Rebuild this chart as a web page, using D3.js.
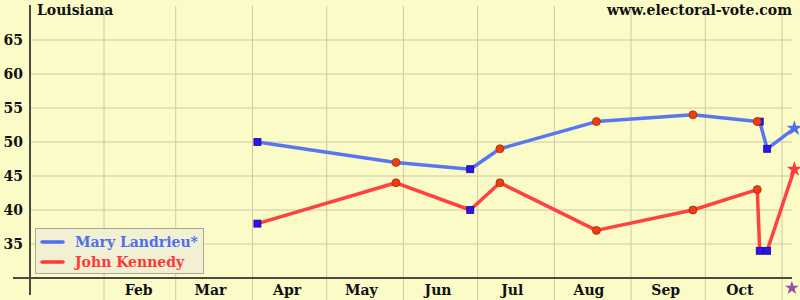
<!DOCTYPE html>
<html>
<head>
<meta charset="utf-8">
<script src="https://cdn.jsdelivr.net/npm/d3@7"></script>
<style>
  body { margin: 0; background: #fbfbc8; }
  text { font-family: "DejaVu Serif", serif; }
</style>
</head>
<body>
<script>
// poll dates and results
var pollDates = ["2008-04-03","2008-05-29","2008-06-28","2008-07-10","2008-08-18",
                 "2008-09-26","2008-10-22","2008-10-23","2008-10-26"];
var pollKinds = ["square","circle","square","circle","circle",
                 "circle","circle","square","square"];
var landrieu = [50, 47, 46, 49, 53, 54, 53, 53, 49];
var kennedy  = [38, 44, 40, 44, 37, 40, 43, 34, 34];

var electionDate = "2008-11-06";
var landrieuResult = 52;
var kennedyResult = 46;

var yTicks = [35, 40, 45, 50, 55, 60, 65];
var monthLabels = ["Feb","Mar","Apr","May","Jun","Jul","Aug","Sep","Oct"];

var parse = d3.utcParse("%Y-%m-%d");

var x = d3.scaleUtc()
          .domain([parse("2008-01-01"), parse("2008-11-01")])
          .range([27.3, 782]);
var y = d3.scaleLinear()
          .domain([30, 70])
          .range([278, 6]);

var svg = d3.select("body")
            .append("svg")
            .attr("width", 800)
            .attr("height", 300);

svg.append("rect")
   .attr("width", 800)
   .attr("height", 300)
   .attr("fill", "#fbfbc8");

// grid
var monthStarts = d3.utcMonth.range(parse("2008-02-01"), parse("2008-11-02"));
svg.selectAll(".vgrid")
   .data(monthStarts)
   .enter()
   .append("line")
   .attr("x1", function(d){return x(d);})
   .attr("x2", function(d){return x(d);})
   .attr("y1", 6)
   .attr("y2", 300)
   .attr("stroke", "#cacaa8")
   .attr("stroke-width", 1);

svg.selectAll(".hgrid")
   .data(yTicks)
   .enter()
   .append("line")
   .attr("x1", 30)
   .attr("x2", 792)
   .attr("y1", function(d){return y(d);})
   .attr("y2", function(d){return y(d);})
   .attr("stroke", "#cacaa8")
   .attr("stroke-width", 1);

// axes
svg.append("line")
   .attr("x1", 13).attr("x2", 792)
   .attr("y1", y(30)).attr("y2", y(30))
   .attr("stroke", "#4a4a40")
   .attr("stroke-width", 2);
svg.append("line")
   .attr("x1", 30).attr("x2", 30)
   .attr("y1", 5).attr("y2", 295)
   .attr("stroke", "#4a4a40")
   .attr("stroke-width", 2);

svg.selectAll(".ylab")
   .data(yTicks)
   .enter()
   .append("text")
   .attr("x", 23)
   .attr("y", function(d){return y(d) + 5;})
   .attr("text-anchor", "end")
   .style("font-size", "14px")
   .style("font-weight", "bold")
   .attr("fill", "#111")
   .text(function(d){return d;});

svg.selectAll(".xlab")
   .data(monthLabels)
   .enter()
   .append("text")
   .attr("x", function(d,i){return x(d3.utcDay.offset(monthStarts[i], 14));})
   .attr("y", 295)
   .attr("text-anchor", "middle")
   .style("font-size", "14px")
   .style("font-weight", "bold")
   .attr("fill", "#111")
   .text(function(d){return d;});

svg.append("text")
   .attr("x", 37).attr("y", 15)
   .style("font-size", "14px")
   .style("font-weight", "bold")
   .attr("fill", "#111")
   .text("Louisiana");
svg.append("text")
   .attr("x", 792).attr("y", 15)
   .attr("text-anchor", "end")
   .style("font-size", "14px")
   .style("font-weight", "bold")
   .attr("fill", "#111")
   .text("www.electoral-vote.com");

// series
var series = [
    {name: "Mary Landrieu*", values: landrieu, result: landrieuResult, color: "#4f6ff0"},
    {name: "John Kennedy",   values: kennedy,  result: kennedyResult,  color: "#ff3838"}
];

var line = d3.line()
             .x(function(d){return x(d.date);})
             .y(function(d){return y(d.v);});

series.forEach(function(s){
    var pts = pollDates.map(function(d,i){
        return {date: parse(d), v: s.values[i], kind: pollKinds[i]};
    });
    var withResult = pts.concat([{date: parse(electionDate), v: s.result, kind: "star"}]);

    svg.append("path")
       .datum(withResult)
       .attr("d", line)
       .attr("fill", "none")
       .attr("stroke", s.color)
       .attr("stroke-width", 3.5)
       .attr("stroke-linejoin", "round")
       .attr("opacity", 0.95);

    svg.selectAll(null)
       .data(pts.filter(function(p){return p.kind == "square";}))
       .enter()
       .append("rect")
       .attr("x", function(d){return x(d.date) - 3.5;})
       .attr("y", function(d){return y(d.v) - 3.5;})
       .attr("width", 7)
       .attr("height", 7)
       .attr("fill", "#2a14f0")
       .attr("stroke", "#1a0a90")
       .attr("stroke-width", 0.8);

    svg.selectAll(null)
       .data(pts.filter(function(p){return p.kind == "circle";}))
       .enter()
       .append("circle")
       .attr("cx", function(d){return x(d.date);})
       .attr("cy", function(d){return y(d.v);})
       .attr("r", 4)
       .attr("fill", "#f03c10")
       .attr("stroke", "#a03008")
       .attr("stroke-width", 0.8);

    svg.append("path")
       .attr("d", d3.symbol(d3.symbolStar).size(75)())
       .attr("transform", "translate(" + x(parse(electionDate)) + "," + y(s.result) + ")")
       .attr("fill", s.color);
});

// election day marker under the axis
svg.append("path")
   .attr("d", d3.symbol(d3.symbolStar).size(60)())
   .attr("transform", "translate(" + (x(parse(electionDate)) - 2.5) + ",288)")
   .attr("fill", "#9a4ea0");

// legend
var legend = svg.append("g");
legend.append("rect")
      .attr("x", 35.5).attr("y", 228.5)
      .attr("width", 168).attr("height", 45)
      .attr("fill", "#f1f0d2")
      .attr("stroke", "#a8a890")
      .attr("stroke-width", 1);

series.forEach(function(s,i){
    legend.append("line")
          .attr("x1", 42).attr("x2", 63)
          .attr("y1", 242 + i*20).attr("y2", 242 + i*20)
          .attr("stroke", s.color)
          .attr("stroke-width", 3.5)
          .attr("stroke-linecap", "round");
    legend.append("text")
          .attr("x", 75).attr("y", 247 + i*20)
          .style("font-size", "14px")
          .style("font-weight", "bold")
          .attr("fill", s.color)
          .text(s.name);
});
</script>
</body>
</html>
